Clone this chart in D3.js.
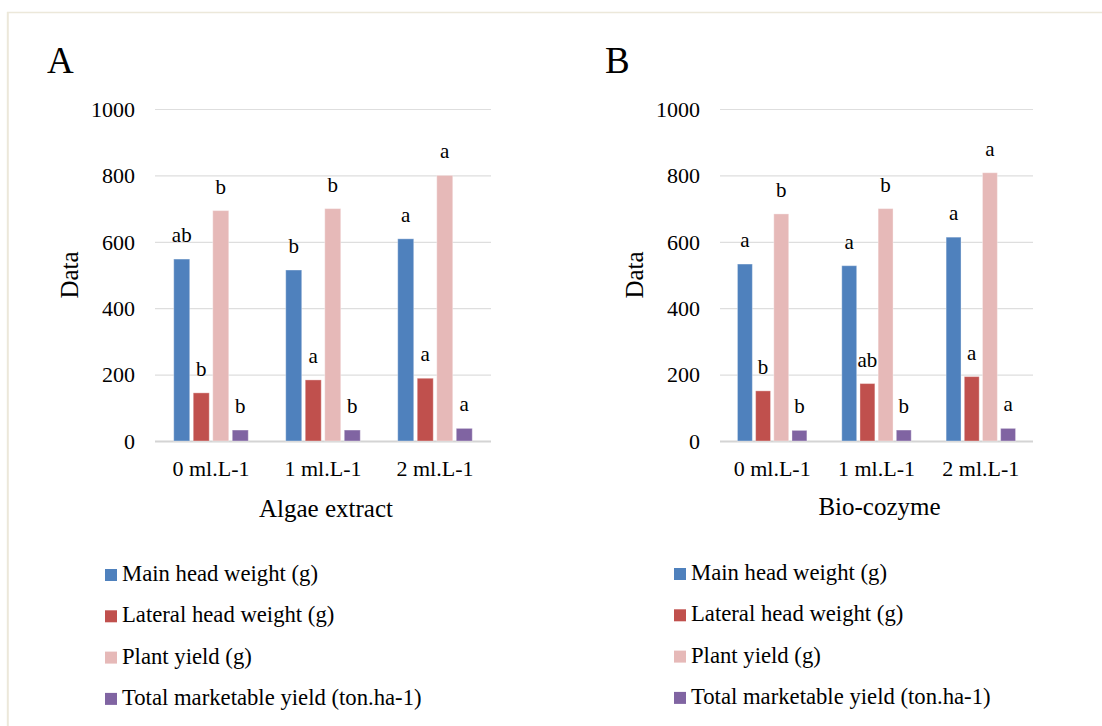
<!DOCTYPE html>
<html lang="en">
<head>
    <meta charset="utf-8">
    <title>Algae extract / Bio-cozyme</title>
    <script src="https://d3js.org/d3.v7.min.js"></script>
    <style>
        body { margin: 0; background: #ffffff; }
        svg text { font-family: 'Liberation Serif', 'Times New Roman', serif; fill: #000; }
    </style>
</head>
<body>
    <svg width="1102" height="726" id="mainsvg"></svg>
    <script>
        // ---- data ----
        const categories = ['0 ml.L-1', '1 ml.L-1', '2 ml.L-1'];
        const seriesNames = ['Main head weight (g)', 'Lateral head weight (g)', 'Plant yield (g)', 'Total marketable yield (ton.ha-1)'];
        const seriesColors = ['#4f81bd', '#c0504d', '#e6b9b8', '#8064a2'];
        const yTicks = [0, 200, 400, 600, 800, 1000];

        // panel A: Algae extract
        const algaeMain = [548, 515, 609];
        const algaeLateral = [145, 184, 189];
        const algaePlant = [694, 700, 800];
        const algaeTotal = [33, 33, 38];
        const algaeLetters = [['ab', 'b', 'a'], ['b', 'a', 'a'], ['b', 'b', 'a'], ['b', 'b', 'a']];

        // panel B: Bio-cozyme
        const bioMain = [533, 528, 614];
        const bioLateral = [151, 173, 194];
        const bioPlant = [684, 700, 808];
        const bioTotal = [32, 33, 38];
        const bioLetters = [['a', 'a', 'a'], ['b', 'ab', 'a'], ['b', 'b', 'a'], ['b', 'b', 'a']];

        const svg = d3.select('#mainsvg');

        // light frame round the figure
        svg.append('line').attr('x1', 7).attr('x2', 1102).attr('y1', 12.5).attr('y2', 12.5)
            .attr('stroke', '#ece8da').attr('stroke-width', 1.5);
        svg.append('line').attr('x1', 7.8).attr('x2', 7.8).attr('y1', 12).attr('y2', 726)
            .attr('stroke', '#ece8da').attr('stroke-width', 2);

        const panels = [
            {
                tag: 'A', title: 'Algae extract', left: 155, right: 491, tagX: 47, dataX: 69,
                titleY: 517, legendX: 105, legendY: 581,
                values: [algaeMain, algaeLateral, algaePlant, algaeTotal], letters: algaeLetters
            },
            {
                tag: 'B', title: 'Bio-cozyme', left: 720, right: 1033, tagX: 605, dataX: 634,
                titleY: 515, legendX: 674, legendY: 580,
                values: [bioMain, bioLateral, bioPlant, bioTotal], letters: bioLetters
            }
        ];

        const plotTop = 109, plotBottom = 441;
        const yScale = d3.scaleLinear().domain([0, 1000]).range([plotBottom, plotTop]);

        panels.forEach(p => {
            const g = svg.append('g');
            const w = p.right - p.left;

            const x0 = d3.scaleBand().domain(categories).range([p.left, p.right]).padding(0);
            const x1 = d3.scaleBand().domain(d3.range(seriesNames.length))
                .range([0, x0.bandwidth()]).paddingInner(0.18).paddingOuter(0.96);

            // panel tag
            g.append('text').attr('x', p.tagX).attr('y', 73)
                .attr('font-size', 37).text(p.tag);

            // y axis with gridlines
            const yAxis = d3.axisLeft(yScale).tickValues(yTicks).tickFormat(d3.format('d'))
                .tickSize(-w).tickPadding(20);
            const yg = g.append('g').attr('transform', `translate(${p.left},0)`).call(yAxis);
            yg.select('.domain').remove();
            yg.selectAll('.tick line').attr('stroke', '#dedede').attr('stroke-width', 1.2);
            yg.selectAll('.tick').filter(d => d === 0).select('line')
                .attr('stroke', '#d4d4d4').attr('stroke-width', 2.2);
            yg.selectAll('.tick text').attr('font-size', 22)
                .attr('font-family', "'Liberation Serif', serif").attr('fill', '#000').attr('dy', '0.33em');

            g.append('text')
                .attr('transform', `translate(${p.dataX},${(plotTop + plotBottom) / 2}) rotate(-90)`)
                .attr('text-anchor', 'middle').attr('dy', '0.35em')
                .attr('font-size', 25).text('Data');

            // bars
            p.values.forEach((vals, si) => {
                g.selectAll(null).data(vals).enter().append('rect')
                    .attr('x', (d, i) => x0(categories[i]) + x1(si))
                    .attr('width', x1.bandwidth())
                    .attr('y', d => yScale(d))
                    .attr('height', d => plotBottom - yScale(d))
                    .attr('fill', seriesColors[si])
                    .attr('stroke', 'rgba(255,255,255,0.35)').attr('stroke-width', 1);

                g.selectAll(null).data(vals).enter().append('text')
                    .attr('x', (d, i) => x0(categories[i]) + x1(si) + x1.bandwidth() / 2)
                    .attr('y', d => yScale(d) - 17)
                    .attr('text-anchor', 'middle')
                    .attr('font-size', 21)
                    .text((d, i) => p.letters[si][i]);
            });

            // x axis labels
            const xAxis = d3.axisBottom(x0).tickSize(0).tickPadding(19);
            const xg = g.append('g').attr('transform', `translate(0,${plotBottom})`).call(xAxis);
            xg.select('.domain').remove();
            xg.selectAll('.tick text').attr('font-size', 22)
                .attr('font-family', "'Liberation Serif', serif").attr('fill', '#000');

            g.append('text').attr('x', (p.left + p.right) / 2 + 3).attr('y', p.titleY)
                .attr('text-anchor', 'middle').attr('font-size', 25).text(p.title);

            // legend
            const lg = g.selectAll('.legend').data(seriesNames).enter().append('g')
                .attr('transform', (d, i) => `translate(${p.legendX},${p.legendY + i * 41.3})`);
            lg.append('rect').attr('x', 0).attr('y', -12).attr('width', 12).attr('height', 12)
                .attr('fill', (d, i) => seriesColors[i]);
            lg.append('text').attr('x', 17).attr('y', 0).attr('font-size', 22.7).text(d => d);
        });
    </script>
</body>
</html>
